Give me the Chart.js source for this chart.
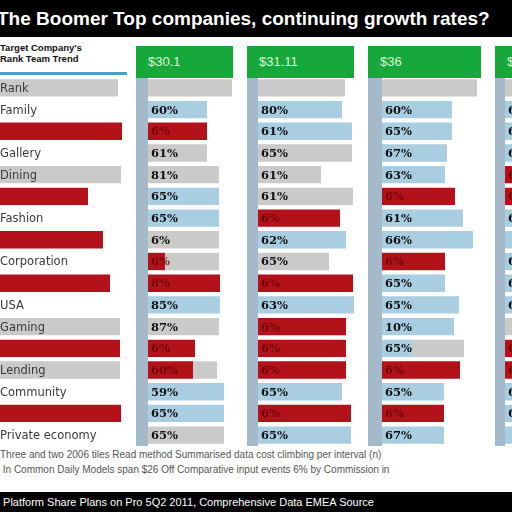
<!DOCTYPE html>
<html>
<head>
<meta charset="utf-8">
<script src="https://cdn.jsdelivr.net/npm/chart.js@4"></script>
<style>
  html, body { margin:0; padding:0; width:512px; height:512px; overflow:hidden; background:#fff; position:relative; font-family:"Liberation Sans", Arial, sans-serif; }
  .abs { position:absolute; }
  #title { left:0; top:0; width:512px; height:37px; background:#000; color:#fff; font-weight:bold; font-size:19px; line-height:37px; white-space:nowrap; text-indent:-3px; }
  #lefthead { left:0; top:42px; font-size:9.5px; font-weight:bold; line-height:11px; color:#111; }
  #leftline { left:0; top:72px; width:127px; height:3px; background:#4f9ccb; }
  .head { top:46px; height:32px; background:#17a83b; color:#dff7d6; font-size:13px; line-height:32px; padding-left:12px; box-sizing:border-box; }
  .strip { top:78px; height:368px; background:#a4bacb; }
  #foot { left:0; top:447px; font-size:10px; line-height:15px; color:#555; white-space:nowrap; }
  #band { left:0; top:492px; width:512px; height:20px; background:#000; color:#fff; font-size:11px; line-height:20px; white-space:nowrap; }
  canvas { position:absolute; }
</style>
</head>
<body>
<div id="title" class="abs">The Boomer Top companies, continuing growth rates?</div>
<div id="lefthead" class="abs">Target Company's<br>Rank Team Trend</div>
<div id="leftline" class="abs"></div>

<div class="abs head" style="left:136px;width:97px">$30.1</div>
<div class="abs head" style="left:247px;width:107px">$31.11</div>
<div class="abs head" style="left:368px;width:113px">$36</div>
<div class="abs head" style="left:495px;width:60px">$33</div>
<div class="abs strip" style="left:136px;width:12px"></div>
<div class="abs strip" style="left:247px;width:11px"></div>
<div class="abs strip" style="left:368px;width:14px"></div>
<div class="abs strip" style="left:495px;width:10px"></div>

<canvas id="left" width="128" height="369" style="left:0;top:77px"></canvas>
<canvas id="p1" width="100" height="369" style="left:148px;top:77px"></canvas>
<canvas id="p2" width="100" height="369" style="left:258px;top:77px"></canvas>
<canvas id="p3" width="100" height="369" style="left:382px;top:77px"></canvas>
<canvas id="p4" width="100" height="369" style="left:505px;top:77px"></canvas>

<div id="foot" class="abs">Three and two 2006 tiles Read method Summarised data cost climbing per interval (n)<br>&nbsp;In Common Daily Models span $26 Off Comparative input events 6% by Commission in</div>
<div id="band" class="abs">&nbsp;Platform Share Plans on Pro 5Q2 2011, Comprehensive Data EMEA Source</div>

<script>
// rows (categories), top to bottom
const rows = ['Rank', 'Family', '', 'Gallery', 'Dining', '', 'Fashion', '', 'Corporation', '',
              'USA', 'Gaming', '', 'Lending', 'Community', '', 'Private economy'];

// left column strip bars
const leftBar = [118, 0, 122, 0, 121, 88, 0, 103, 0, 110, 0, 120, 120, 120, 0, 121, 0];
const leftCol = ['g', '-', 'r', '-', 'g', 'r', '-', 'r', '-', 'r', '-', 'g', 'r', 'g', '-', 'r', '-'];

// panel 1  ($30.1)
const p1Main  = [84, 59, 59, 59, 71, 71, 71, 71, 17, 72, 72, 71, 47, 45, 76, 76, 76];
const p1Extra = [0, 0, 0, 0, 0, 0, 0, 0, 54, 0, 0, 0, 0, 24, 0, 0, 0];
const p1Col   = ['g','b','r','g','g','b','b','g','r','r','b','g','r','r','b','b','g'];
const p1Pct   = ['', '60%','6%','61%','81%','65%','65%','6%','6%','8%','85%','87%','6%','60%','59%','65%','65%'];

// panel 2  ($31.11)
const p2Main  = [87, 84, 94, 94, 63, 95, 82, 88, 71, 95, 96, 88, 88, 88, 84, 93, 93];
const p2Extra = [0, 0, 0, 0, 0, 0, 0, 0, 0, 0, 0, 0, 0, 0, 0, 0, 0];
const p2Col   = ['g','b','b','g','g','g','r','b','g','r','b','r','r','r','b','r','b'];
const p2Pct   = ['', '80%','61%','65%','61%','61%','6%','62%','65%','6%','63%','6%','6%','6%','65%','6%','65%'];

// panel 3  ($36)
const p3Main  = [95, 70, 70, 65, 63, 73, 81, 91, 63, 63, 77, 72, 30, 78, 62, 62, 62];
const p3Extra = [0, 0, 0, 0, 0, 0, 0, 0, 0, 0, 0, 0, 52, 0, 0, 0, 0];
const p3Col   = ['g','b','b','b','b','r','b','b','r','b','b','b','b','r','b','r','b'];
const p3Pct   = ['', '60%','65%','67%','63%','6%','61%','66%','6%','65%','65%','10%','65%','6%','65%','6%','67%'];

// panel 4 (cut off at the edge)
const p4Main  = [90, 80, 80, 80, 80, 80, 80, 80, 80, 80, 80, 80, 80, 80, 80, 80, 80];
const p4Extra = [0, 0, 0, 0, 0, 0, 0, 0, 0, 0, 0, 0, 0, 0, 0, 0, 0];
const p4Col   = ['g','b','b','b','r','r','b','b','b','b','b','g','r','r','b','b','b'];
const p4Pct   = ['', '65%','66%','65%','6%','6%','65%','','65%','66%','65%','','6%','6%','65%','65%',''];

const COLORS = { b: '#a9cee2', r: '#b3121b', g: '#cacac8', '-': 'rgba(0,0,0,0)' };
const GREY = '#cacac8';

const barText = {
  id: 'barText',
  afterDatasetsDraw(chart, args, opts) {
    const ctx = chart.ctx;
    const meta = chart.getDatasetMeta(0);
    ctx.save();
    ctx.font = opts.font;
    ctx.textBaseline = 'middle';
    ctx.textAlign = 'left';
    meta.data.forEach((bar, i) => {
      const t = opts.texts[i];
      if (!t) return;
      ctx.fillStyle = opts.cols[i] === 'r' ? 'rgba(95,0,0,0.75)' : opts.color;
      ctx.fillText(t, opts.x, bar.y + 1);
    });
    ctx.restore();
  }
};

function makeChart(id, main, extra, cols, texts, opts) {
  const ctx = document.getElementById(id).getContext('2d');
  return new Chart(ctx, {
    type: 'bar',
    data: {
      labels: rows,
      datasets: [
        { data: main,  backgroundColor: cols.map(c => COLORS[c]), borderWidth: 0 },
        { data: extra, backgroundColor: GREY, borderWidth: 0 }
      ]
    },
    options: {
      indexAxis: 'y',
      responsive: false,
      animation: false,
      layout: { padding: 0 },
      datasets: { bar: { categoryPercentage: 1, barPercentage: 0.8 } },
      plugins: {
        legend: { display: false },
        tooltip: { enabled: false },
        barText: Object.assign({ texts: texts, cols: cols }, opts)
      },
      scales: {
        x: { display: false, stacked: true, min: 0, max: opts.max || 100 },
        y: { display: false, stacked: true }
      }
    },
    plugins: [barText]
  });
}

makeChart('left', leftBar, leftBar.map(() => 0), leftCol, rows,
  { font: '11.5px "DejaVu Sans"', color: '#3a3a3a', x: 0, max: 128 });
const pctFont = { font: 'bold 11.5px "DejaVu Serif"', color: '#111', x: 3 };
makeChart('p1', p1Main, p1Extra, p1Col, p1Pct, pctFont);
makeChart('p2', p2Main, p2Extra, p2Col, p2Pct, pctFont);
makeChart('p3', p3Main, p3Extra, p3Col, p3Pct, pctFont);
makeChart('p4', p4Main, p4Extra, p4Col, p4Pct, pctFont);
</script>
</body>
</html>
